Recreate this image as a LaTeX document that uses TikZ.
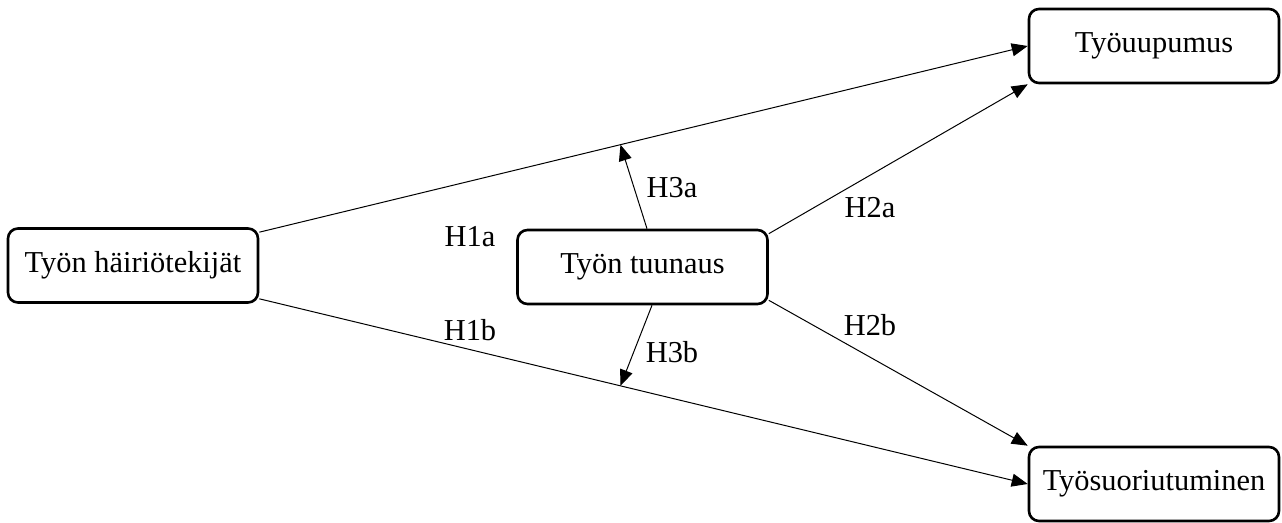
\documentclass[tikz,border=0pt]{standalone}
\usepackage{fontspec}
\setmainfont{Liberation Serif}
\usetikzlibrary{positioning}
\usetikzlibrary{arrows.meta}

\begin{document}
\begin{tikzpicture}[x=0.5pt, y=-0.5pt,
        box/.style={draw, line width=1.3pt, rounded corners=5pt, minimum width=125pt, minimum height=37pt, inner sep=0pt, font=\fontsize{15.2}{18}\selectfont},
        arr/.style={line width=0.5pt, -{Triangle[length=8pt, width=6.5pt]}},
        lab/.style={font=\fontsize{15.2}{18}\selectfont}]
        \useasboundingbox (0,0) rectangle (1282,523);

        % Variables
        \node[box] (hair) at (133,265.5) {Työn häiriötekijät};
        \node[box] (tuun) at (642.5,267) {Työn tuunaus};
        \node[box] (upu) at (1154,46) {Työuupumus};
        \node[box] (suor) at (1154,484) {Työsuoriutuminen};

        % Efectos directos
        \draw[arr] ([yshift=-2.5pt]hair.north east) -- coordinate[pos=0.47] (h1amid) (upu.west);
        \draw[arr] ([yshift=2.5pt]hair.south east) -- coordinate[pos=0.47] (h1bmid) (suor.west);
        \draw[arr] ([yshift=-2.5pt]tuun.north east) -- (upu.south west);
        \draw[arr] ([yshift=2.5pt]tuun.south east) -- (suor.north west);

        % Moderacion
        \draw[arr] ([xshift=2.25pt]tuun.north) -- (h1amid);
        \draw[arr] ([xshift=4.75pt]tuun.south) -- (h1bmid);

        % Hipotesis
        \node[lab] (l1a) at (470,237) {H1a};
        \node[lab] (l1b) at (470,330) {H1b};
        \node[lab] (l2a) at (870,208) {H2a};
        \node[lab] (l2b) at (870,325) {H2b};
        \node[lab] (l3a) at (672,188) {H3a};
        \node[lab] (l3b) at (672,352) {H3b};

    \end{tikzpicture}
\end{document}
